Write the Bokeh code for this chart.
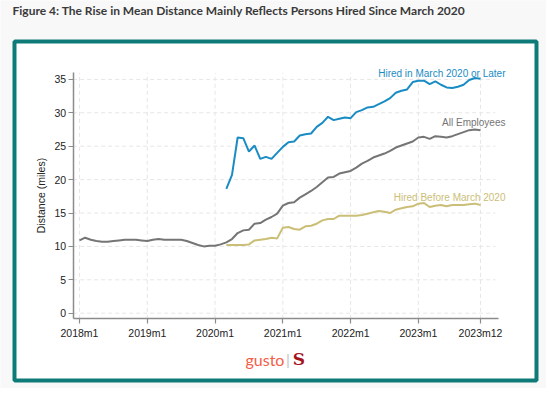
from bokeh.plotting import figure
from bokeh.models import Range1d, FixedTicker, Label, BoxAnnotation
from bokeh.embed import file_html
from bokeh.resources import INLINE

# ---- data (monthly, 2018m1 .. 2023m12) ----
months = [f"{y}m{m}" for y in range(2018, 2024) for m in range(1, 13)]

all_employees = [10.9, 11.3, 11.0, 10.8, 10.7, 10.7, 10.8, 10.9, 11.0, 11.0, 11.0, 10.9,
                 10.8, 11.0, 11.1, 11.0, 11.0, 11.0, 11.0, 10.8, 10.5, 10.2, 10.0, 10.1,
                 10.1, 10.3, 10.6, 11.1, 12.0, 12.4, 12.5, 13.4, 13.5, 14.0, 14.4, 14.9,
                 16.1, 16.5, 16.6, 17.3, 17.8, 18.3, 18.9, 19.6, 20.3, 20.4, 20.9, 21.1,
                 21.3, 21.8, 22.4, 22.8, 23.3, 23.6, 23.9, 24.3, 24.8, 25.1, 25.4, 25.7,
                 26.3, 26.4, 26.1, 26.5, 26.4, 26.3, 26.5, 26.8, 27.1, 27.4, 27.5, 27.4]

# from 2020m3 onward
hired_after = [18.6, 20.7, 26.3, 26.2, 24.2, 25.1, 23.1, 23.4, 23.1, 24.0,
               24.9, 25.6, 25.7, 26.6, 26.8, 26.9, 27.9, 28.5, 29.4, 28.9, 29.1, 29.3,
               29.2, 30.1, 30.4, 30.8, 30.9, 31.3, 31.7, 32.2, 33.0, 33.3, 33.5, 34.6,
               34.8, 34.8, 34.3, 34.7, 34.2, 33.8, 33.7, 33.9, 34.2, 34.9, 35.2, 35.1]

hired_before = [10.2, 10.2, 10.2, 10.2, 10.3, 10.9, 11.0, 11.1, 11.3, 11.2,
                12.8, 12.9, 12.6, 12.5, 13.0, 13.1, 13.4, 13.9, 14.1, 14.1, 14.6, 14.6,
                14.6, 14.6, 14.7, 14.9, 15.1, 15.3, 15.2, 15.0, 15.5, 15.7, 15.9, 16.0,
                16.4, 16.5, 15.9, 16.1, 16.2, 16.0, 16.2, 16.2, 16.2, 16.3, 16.4, 16.2]

tick_labels = ["2018m1", "2019m1", "2020m1", "2021m1", "2022m1", "2023m1", "2023m12"]
y_ticks = [0, 5, 10, 15, 20, 25, 30, 35]

idx_all = list(range(len(all_employees)))
start = months.index("2020m3")
idx_after = list(range(start, start + len(hired_after)))
idx_before = list(range(start, start + len(hired_before)))
tick_pos = [months.index(t) for t in tick_labels]

BLUE = "#1a8cc4"
GRAY = "#757575"
TAN = "#cbbe76"
TEAL = "#0f7b78"
BG = "#f8f8f8"
FONT = "Liberation Sans"

# layout constants (data space of the full canvas)
X0, X1 = -1.12, 74.13      # axis extent
Y0, Y1 = -0.84, 36.0

p = figure(width=546, height=388, output_backend="svg", toolbar_location=None,
           x_range=Range1d(-13.987, 82.684), y_range=Range1d(-11.272, 46.811),
           min_border=0)
p.border_fill_color = BG
p.background_fill_color = BG
p.outline_line_color = None
p.xgrid.visible = False
p.ygrid.visible = False

# card background with teal border
card = BoxAnnotation(left=-11.508, right=80.913, top=40.674, bottom=-10.075,
                     fill_color="white", fill_alpha=1.0,
                     line_color=TEAL, line_alpha=1.0, line_width=4, level="image")
p.add_layout(card)

# grid lines at the ticks
p.segment(x0=tick_pos, x1=tick_pos, y0=[Y0] * len(tick_pos), y1=[Y1] * len(tick_pos),
          line_color="#e6e6e6", line_width=1, line_dash="4 3")
p.segment(x0=[X0] * len(y_ticks), x1=[X1 - 0.5] * len(y_ticks), y0=y_ticks, y1=y_ticks,
          line_color="#e6e6e6", line_width=1, line_dash="4 3")

# axes (fixed inside the canvas)
p.xaxis.fixed_location = Y0
p.yaxis.fixed_location = X0
p.xaxis.bounds = (X0, X1)
p.yaxis.bounds = (Y0, Y1)
for ax in (p.xaxis[0], p.yaxis[0]):
    ax.axis_line_color = "#8c8c8c"
    ax.axis_line_width = 1.5
    ax.major_tick_line_color = "#8c8c8c"
    ax.major_tick_line_width = 1.2
    ax.major_tick_out = 5
    ax.major_tick_in = 0
    ax.minor_tick_line_color = None
    ax.major_label_text_font = FONT
    ax.major_label_text_font_size = "10.5px"
    ax.major_label_text_color = "#222222"

p.xaxis.ticker = FixedTicker(ticks=tick_pos)
p.xaxis.major_label_overrides = {pos: lab for pos, lab in zip(tick_pos, tick_labels)}
p.xaxis.major_label_standoff = 3
p.yaxis.ticker = FixedTicker(ticks=y_ticks)
p.yaxis.major_label_standoff = 2
p.yaxis.axis_label = "Distance (miles)"
p.yaxis.axis_label_text_font = FONT
p.yaxis.axis_label_text_font_style = "normal"
p.yaxis.axis_label_text_font_size = "10.5px"
p.yaxis.axis_label_text_color = "#222222"
p.yaxis.axis_label_standoff = 5

p.line(idx_all, all_employees, line_color=GRAY, line_width=2)
p.line(idx_before, hired_before, line_color=TAN, line_width=2)
p.line(idx_after, hired_after, line_color=BLUE, line_width=2)

# line labels
for txt, col, yv in [("Hired in March 2020 or Later", BLUE, 35.88),
                     ("All Employees", GRAY, 28.55),
                     ("Hired Before March 2020", TAN, 17.37)]:
    p.add_layout(Label(x=75.42, y=yv, text=txt, text_color=col, text_font=FONT,
                       text_font_size="10px", text_align="right", text_baseline="middle"))

# title
p.add_layout(Label(x=-11.86, y=45.25,
                   text="Figure 4: The Rise in Mean Distance Mainly Reflects Persons Hired Since March 2020",
                   text_font="Lato", text_font_size="12px", text_font_style="bold",
                   text_color="#3a3a3a", text_baseline="middle", text_align="left"))

# logos
p.add_layout(Label(x=29.39, y=-6.92, text="gusto",
                   text_font="Lato", text_font_size="16px", text_font_style="normal",
                   text_color="#f45d48", text_baseline="middle", text_align="left"))
p.add_layout(Label(x=36.55, y=-6.92, text="|",
                   text_font=FONT, text_font_size="15px",
                   text_color="#c8c8c8", text_baseline="middle", text_align="left"))
p.add_layout(Label(x=37.75, y=-6.92, text="S",
                   text_font="DejaVu Serif", text_font_size="17px", text_font_style="bold",
                   text_color="#a3141d", text_baseline="middle", text_align="left"))

open("out.html", "w").write(file_html(p, INLINE))
